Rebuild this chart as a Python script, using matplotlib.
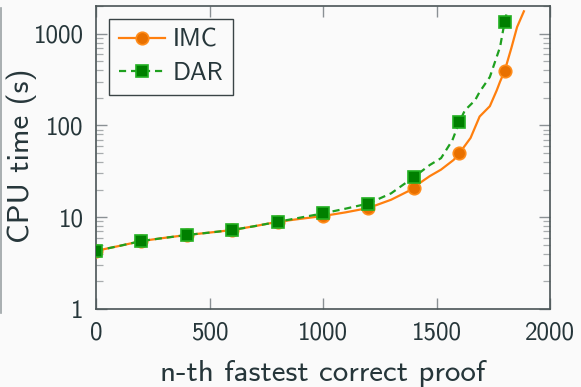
import matplotlib
matplotlib.use("Agg")
import matplotlib.pyplot as plt
from matplotlib.lines import Line2D
from matplotlib.ticker import FixedLocator, FixedFormatter, NullFormatter

# ---- data ----
imc_x = [0, 100, 200, 300, 400, 500, 600, 700, 800, 900, 1000, 1100, 1200, 1300,
         1400, 1420, 1470, 1520, 1575, 1600, 1650, 1690, 1735, 1765, 1780, 1800,
         1830, 1855, 1885]
imc_y = [4.3, 4.85, 5.5, 5.95, 6.4, 6.8, 7.25, 8.0, 8.9, 9.6, 10.3, 11.3, 12.6, 15.5,
         20.6, 23, 28, 33, 42, 49.5, 73, 125, 162, 240, 300, 390,
         700, 1180, 1750]
dar_x = [0, 100, 200, 300, 400, 500, 600, 700, 800, 900, 1000, 1100, 1200, 1300,
         1400, 1470, 1520, 1570, 1600, 1625, 1670, 1690, 1735, 1780, 1800, 1812]
dar_y = [4.3, 4.85, 5.5, 5.95, 6.4, 6.8, 7.25, 8.0, 8.9, 9.9, 11.0, 12.4, 14.1, 18.2,
         27.3, 37, 44, 69, 108, 146, 188, 232, 337, 715, 1337, 1790]
marker_step = 200
xticks = [0, 500, 1000, 1500, 2000]
xticklabels = ["0", "500", "1000", "1500", "2000"]
yticks = [1, 10, 100, 1000]
yticklabels = ["1", "10", "100", "1000"]

txt = "#26363a"
font = "cmss10"
plt.rcParams["font.family"] = [font, "DejaVu Sans"]
plt.rcParams["axes.unicode_minus"] = False

fig = plt.figure(figsize=(5.81, 3.87), dpi=100, facecolor="#fafafa")
ax = fig.add_axes([96/581, 1-309/387, (550-96)/581, (309-6)/387])
ax.set_facecolor("#fafafa")

imc_mk = [i for i, v in enumerate(imc_x) if v % marker_step == 0]
dar_mk = [i for i, v in enumerate(dar_x) if v % marker_step == 0]

ax.plot(imc_x, imc_y, color="#ff7f0e", lw=1.6, marker="o", markersize=9,
        markerfacecolor="#e87000", markeredgecolor="#ff8c1a", markeredgewidth=1.2,
        markevery=imc_mk, label="IMC", zorder=3)
ax.plot(dar_x, dar_y, color="#1fa01f", lw=1.6, ls=(0, (3.2, 2.2)), marker="s", markersize=9,
        markerfacecolor="#007f00", markeredgecolor="#22b022", markeredgewidth=1.2,
        markevery=dar_mk, label="DAR", zorder=4)

ax.set_yscale("log")
ax.set_xlim(0, 2000)
ax.set_ylim(1, 2000)

ax.xaxis.set_major_locator(FixedLocator(xticks))
ax.xaxis.set_major_formatter(FixedFormatter(xticklabels))
ax.yaxis.set_major_locator(FixedLocator(yticks))
ax.yaxis.set_major_formatter(FixedFormatter(yticklabels))
ax.yaxis.set_minor_formatter(NullFormatter())

ax.tick_params(axis="both", which="major", direction="in", length=8, width=1.0,
               color="#8a9094", labelsize=18, labelcolor=txt, pad=9,
               top=True, right=True)
ax.tick_params(axis="y", which="minor", direction="in", length=5, width=0.9,
               color="#a8acae", left=True, right=True)
ax.tick_params(axis="x", which="minor", bottom=False, top=False)

for s in ax.spines.values():
    s.set_color("#4a5456")
    s.set_linewidth(1.2)

ax.set_xlabel("n-th fastest correct proof", fontsize=22.3, color=txt)
ax.set_ylabel("CPU time (s)", fontsize=22.3, color=txt)
ax.xaxis.set_label_coords((323-96)/454, -(381-309)/303, transform=ax.transAxes)
ax.xaxis.label.set_va("baseline")
ax.yaxis.set_label_coords((22-96)/454, (309-156)/303, transform=ax.transAxes)
ax.yaxis.label.set_va("center")

leg = ax.legend(loc="upper left", fontsize=18, frameon=True, fancybox=False,
                handlelength=1.84, borderpad=0.4, labelspacing=0.42,
                handletextpad=0.32, borderaxespad=0.5, framealpha=1)
leg.get_frame().set_edgecolor("#3a4446")
leg.get_frame().set_linewidth(1.0)
leg.get_frame().set_facecolor("#fafafa")
for t in leg.get_texts():
    t.set_color(txt)

fig.add_artist(Line2D([0.8/581, 0.8/581], [1-313/387, 1-8/387], color="#9aa2a4",
                      lw=1.2, transform=fig.transFigure))

fig.savefig("out.png", dpi=100, facecolor=fig.get_facecolor())
